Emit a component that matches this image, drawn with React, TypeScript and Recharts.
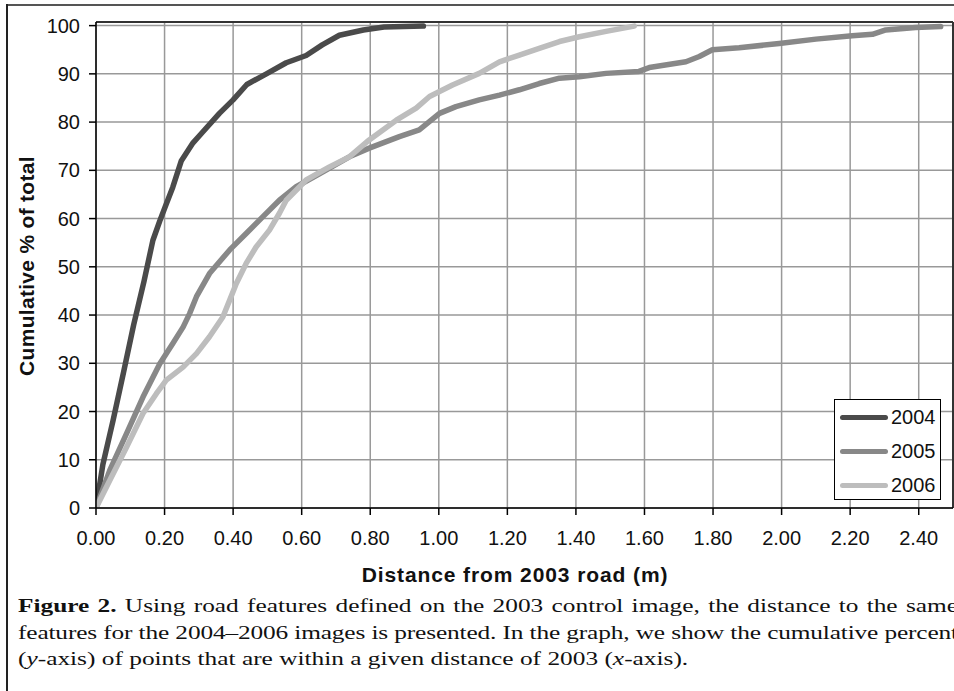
import React from "react";
import {
  LineChart,
  Line,
  XAxis,
  YAxis,
  CartesianGrid,
  ReferenceLine,
} from "recharts";

// distance from 2003 road (m) and cumulative % for each year
const dist2004 = [0, 0.02, 0.05, 0.08, 0.11, 0.14, 0.166, 0.186, 0.205, 0.224, 0.249, 0.283, 0.312, 0.36, 0.4, 0.44, 0.497, 0.555, 0.613, 0.66, 0.71, 0.78, 0.84, 0.955];
const pct2004 = [0, 9, 18.2, 28, 38, 47, 55.5, 59.5, 63, 66.5, 72, 75.7, 78, 81.8, 84.6, 87.8, 90, 92.3, 93.8, 96, 98, 99.1, 99.7, 99.9];

const dist2005 = [0, 0.04, 0.089, 0.137, 0.186, 0.224, 0.254, 0.273, 0.293, 0.331, 0.39, 0.438, 0.487, 0.535, 0.584, 0.662, 0.739, 0.797, 0.885, 0.943, 1.002, 1.05, 1.118, 1.177, 1.235, 1.293, 1.352, 1.41, 1.488, 1.584, 1.614, 1.721, 1.76, 1.798, 1.876, 1.993, 2.1, 2.206, 2.265, 2.304, 2.391, 2.464];
const pct2005 = [0, 7.8, 15.4, 23, 29.9, 34.1, 37.5, 40.3, 43.8, 48.6, 53.5, 56.9, 60.4, 63.8, 66.6, 69.7, 72.8, 74.6, 77, 78.4, 81.8, 83.2, 84.6, 85.6, 86.7, 88, 89.1, 89.4, 90.1, 90.5, 91.3, 92.5, 93.6, 95, 95.4, 96.3, 97.2, 97.9, 98.2, 99.1, 99.6, 99.8];

const dist2006 = [0, 0.04, 0.089, 0.137, 0.176, 0.205, 0.254, 0.293, 0.331, 0.37, 0.39, 0.409, 0.438, 0.467, 0.506, 0.535, 0.555, 0.594, 0.613, 0.681, 0.739, 0.797, 0.876, 0.934, 0.973, 1.021, 1.04, 1.118, 1.177, 1.235, 1.293, 1.352, 1.41, 1.488, 1.57];
const pct2006 = [0, 5.7, 12.6, 19.6, 23.7, 26.5, 29.2, 32, 35.5, 39.6, 43.1, 46.5, 50.7, 54.1, 57.6, 61.1, 63.8, 66.6, 68, 70.7, 72.8, 76.3, 80.4, 82.9, 85.3, 87, 87.7, 90.1, 92.5, 93.9, 95.3, 96.7, 97.7, 98.8, 99.9];

const xTicks = [0, 0.2, 0.4, 0.6, 0.8, 1.0, 1.2, 1.4, 1.6, 1.8, 2.0, 2.2, 2.4];
const yTicks = [0, 10, 20, 30, 40, 50, 60, 70, 80, 90, 100];

const series = [
  { name: "2004", color: "#4a4a4a", dist: dist2004, pct: pct2004 },
  { name: "2005", color: "#888888", dist: dist2005, pct: pct2005 },
  { name: "2006", color: "#bdbdbd", dist: dist2006, pct: pct2006 },
];

const toRows = (d: number[], p: number[]) => d.map((x, i) => ({ x, y: p[i] }));

const sans = "'Liberation Sans', Arial, sans-serif";
const serif = "'Liberation Serif', 'Times New Roman', serif";

function LegendBox() {
  return (
    <div
      style={{
        position: "absolute",
        left: 834,
        top: 399,
        width: 107,
        height: 101,
        boxSizing: "border-box",
        border: "1px solid #000",
        background: "#fff",
        fontFamily: sans,
        fontSize: 20,
        color: "#111",
      }}
    >
      {series.map((s, i) => (
        <div key={s.name} style={{ position: "absolute", left: 5, top: 5 + i * 34, height: 24, display: "flex", alignItems: "center" }}>
          <div style={{ width: 48, height: 5, borderRadius: 3, background: s.color }} />
          <span style={{ marginLeft: 3 }}>{s.name}</span>
        </div>
      ))}
    </div>
  );
}

const captionScale = 1.3;

export default function App() {
  return (
    <div style={{ position: "absolute", left: 0, top: 0, width: 954, height: 691, overflow: "hidden", background: "#fff" }}>
      <div style={{ position: "absolute", left: 6, top: 4, width: 960, height: 2, background: "#555" }} />
      <div style={{ position: "absolute", left: 6, top: 4, width: 2, height: 700, background: "#222" }} />

      <LineChart width={954} height={691} margin={{ top: 22, right: 1, left: 0, bottom: 0 }}>
        <CartesianGrid stroke="#999" strokeWidth={1.5} verticalValues={xTicks} horizontalValues={yTicks} />
        <XAxis
          type="number"
          dataKey="x"
          domain={[0, 2.5]}
          ticks={xTicks}
          allowDataOverflow
          height={183}
          tickSize={7}
          tickMargin={16}
          tickFormatter={(v: number) => v.toFixed(2)}
          tick={{ fontSize: 20, fill: "#111", fontFamily: sans }}
          stroke="#000"
          strokeWidth={1.5}
        />
        <YAxis
          type="number"
          domain={[0, 100.75]}
          ticks={yTicks}
          allowDataOverflow
          width={96}
          tickSize={7}
          tickMargin={9}
          tick={{ fontSize: 20, fill: "#111", fontFamily: sans }}
          stroke="#000"
          strokeWidth={1.5}
        />
        <ReferenceLine y={100.75} stroke="#333" strokeWidth={2} />
        <ReferenceLine x={2.5} stroke="#333" strokeWidth={2} />
        {series.map((s) => (
          <Line
            key={s.name}
            data={toRows(s.dist, s.pct)}
            dataKey="y"
            name={s.name}
            type="linear"
            stroke={s.color}
            strokeWidth={5.5}
            strokeLinecap="round"
            strokeLinejoin="round"
            dot={false}
            isAnimationActive={false}
          />
        ))}
      </LineChart>

      <LegendBox />

      <div
        style={{
          position: "absolute",
          left: 27,
          top: 266,
          transform: "translate(-50%, -50%) rotate(-90deg)",
          whiteSpace: "nowrap",
          fontFamily: sans,
          fontWeight: "bold",
          fontSize: 21,
          letterSpacing: 0.3,
          color: "#111",
        }}
      >
        Cumulative % of total
      </div>
      <div
        style={{
          position: "absolute",
          left: 515,
          top: 575,
          transform: "translate(-50%, -50%)",
          whiteSpace: "nowrap",
          fontFamily: sans,
          fontWeight: "bold",
          fontSize: 21,
          letterSpacing: 0.9,
          color: "#111",
        }}
      >
        Distance from 2003 road (m)
      </div>

      <div
        style={{
          position: "absolute",
          left: 18,
          top: 593,
          width: 940 / captionScale,
          transform: `scaleX(${captionScale})`,
          transformOrigin: "left top",
          fontFamily: serif,
          fontSize: 19.5,
          lineHeight: "26.5px",
          color: "#111",
        }}
      >
        <div style={{ textAlign: "justify", textAlignLast: "justify", whiteSpace: "nowrap" }}>
          <b>Figure 2.</b> Using road features defined on the 2003 control image, the distance to the same
        </div>
        <div style={{ textAlign: "justify", textAlignLast: "justify", whiteSpace: "nowrap", letterSpacing: -0.12 }}>
          features for the 2004–2006 images is presented. In the graph, we show the cumulative percent
        </div>
        <div style={{ whiteSpace: "nowrap" }}>
          (<i>y</i>-axis) of points that are within a given distance of 2003 (<i>x</i>-axis).
        </div>
      </div>
    </div>
  );
}
